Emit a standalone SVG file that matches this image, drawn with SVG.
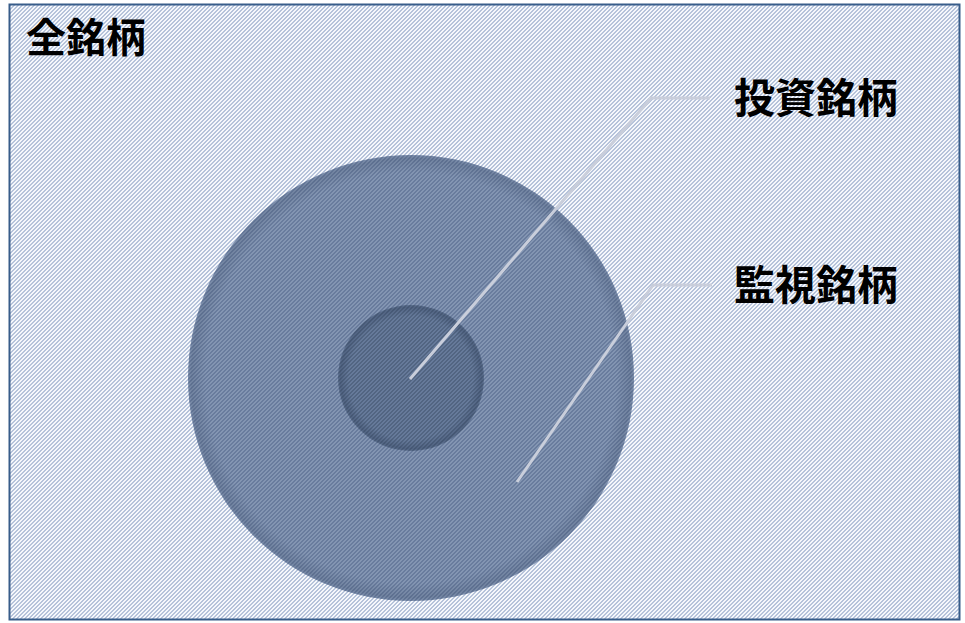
<svg xmlns="http://www.w3.org/2000/svg" width="965" height="623" viewBox="0 0 965 623">
  <style>
    .lbl { font-family: "Noto Sans CJK JP", "Noto Sans CJK SC", sans-serif; font-weight: bold; fill: #000; }
    .leader { fill: none; stroke: #c9cedb; stroke-width: 3; stroke-linejoin: round; }
  </style>
  <defs>
    <pattern id="bgStripe" patternUnits="userSpaceOnUse" width="4" height="4">
      <rect width="4" height="4" fill="#f6f8fc"/>
      <path d="M2 0h2v1h-2zM1 1h2v1h-2zM0 2h2v1h-2zM0 3h1v1h-1zM3 3h1v1h-1z" fill="#b6c3da"/>
    </pattern>
    <pattern id="bigStripe" patternUnits="userSpaceOnUse" width="4" height="4">
      <rect width="4" height="4" fill="#8395b2"/>
      <path d="M2 0h2v1h-2zM1 1h2v1h-2zM0 2h2v1h-2zM0 3h1v1h-1zM3 3h1v1h-1z" fill="#697c9d"/>
    </pattern>
    <pattern id="smallStripe" patternUnits="userSpaceOnUse" width="4" height="4">
      <rect width="4" height="4" fill="#667a9a"/>
      <path d="M2 0h2v1h-2zM1 1h2v1h-2zM0 2h2v1h-2zM0 3h1v1h-1zM3 3h1v1h-1z" fill="#526582"/>
    </pattern>
    <radialGradient id="bigShade" cx="0.5" cy="0.5" r="0.5">
      <stop offset="0.92" stop-color="#2e3f5c" stop-opacity="0"/>
      <stop offset="0.985" stop-color="#2e3f5c" stop-opacity="0.22"/>
      <stop offset="1" stop-color="#2e3f5c" stop-opacity="0.05"/>
    </radialGradient>
    <radialGradient id="smallShade" cx="0.5" cy="0.5" r="0.5">
      <stop offset="0.85" stop-color="#2a3a55" stop-opacity="0"/>
      <stop offset="0.97" stop-color="#2a3a55" stop-opacity="0.35"/>
      <stop offset="1" stop-color="#2a3a55" stop-opacity="0.15"/>
    </radialGradient>
  </defs>

  <g id="frame">
    <rect x="9.5" y="4.5" width="950" height="615" fill="url(#bgStripe)" stroke="#385d8a" stroke-width="2"/>
    <text class="lbl" x="26" y="52" font-size="40">全銘柄</text>
  </g>

  <g id="monitor">
    <circle cx="411" cy="378" r="223" fill="url(#bigStripe)"/>
    <circle cx="411" cy="378" r="223" fill="url(#bigShade)"/>
  </g>

  <g id="invest">
    <circle cx="411" cy="378" r="73" fill="url(#smallStripe)"/>
    <circle cx="411" cy="378" r="73" fill="url(#smallShade)"/>
  </g>

  <g id="connectors">
    <polyline class="leader" points="410,379 651,98 710,98"/>
    <polyline class="leader" points="517,482 653,285 712,285"/>
  </g>

  <g id="labels">
    <text class="lbl" x="734" y="113" font-size="41">投資銘柄</text>
    <text class="lbl" x="734" y="300" font-size="41">監視銘柄</text>
  </g>
</svg>
